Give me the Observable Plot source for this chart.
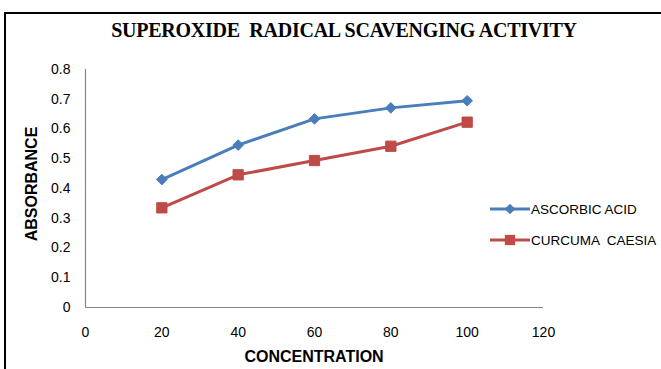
<!DOCTYPE html>
<html>
<head>
<meta charset="utf-8">
<script src="https://cdn.jsdelivr.net/npm/d3@7"></script>
<script src="https://cdn.jsdelivr.net/npm/@observablehq/plot@0.6"></script>
<style>
  html, body { margin: 0; padding: 0; background: #fff; }
  #wrap { position: relative; width: 661px; height: 369px; overflow: hidden; }
  #wrap svg.plot { position: absolute; left: 0; top: 0; }
  .frame { position: absolute; left: 4px; top: 12px; width: 660px; height: 360px; border-top: 2px solid #000; border-left: 2px solid #000; box-sizing: border-box; }
  .title { position: absolute; left: 344px; top: 30px; transform: translate(-50%, -50%); white-space: pre; font-family: "Liberation Serif", "Times New Roman", serif; font-weight: bold; font-size: 20px; letter-spacing: -0.25px; color: #000; }
  .xlabel { position: absolute; left: 314px; top: 357px; transform: translate(-50%, -50%); font-family: "Liberation Sans", Arial, sans-serif; font-weight: bold; font-size: 16px; color: #000; white-space: nowrap; }
  .ylabel { position: absolute; left: 32px; top: 184px; transform: translate(-50%, -50%) rotate(-90deg); font-family: "Liberation Sans", Arial, sans-serif; font-weight: bold; font-size: 16px; color: #000; white-space: nowrap; }
</style>
</head>
<body>
<div id="wrap">
  <div class="frame"></div>
  <div class="title">SUPEROXIDE  RADICAL SCAVENGING ACTIVITY</div>
  <div class="xlabel">CONCENTRATION</div>
  <div class="ylabel">ABSORBANCE</div>
</div>
<script>
const concentration = [20, 40, 60, 80, 100];
const ascorbicAcid = [0.43, 0.546, 0.634, 0.671, 0.695];
const curcumaCaesia = [0.335, 0.446, 0.494, 0.542, 0.623];
const seriesNames = ["ASCORBIC ACID", "CURCUMA  CAESIA"];
const seriesColors = ["#4a7ebb", "#be4b48"];
const xTicks = [0, 20, 40, 60, 80, 100, 120];
const yTicks = [0, 0.1, 0.2, 0.3, 0.4, 0.5, 0.6, 0.7, 0.8];

const dataA = concentration.map((c, i) => ({x: c, y: ascorbicAcid[i]}));
const dataC = concentration.map((c, i) => ({x: c, y: curcumaCaesia[i]}));

const font = '"Liberation Sans", Arial, sans-serif';
const fmt = d3.format("~g");

const chart = Plot.plot({
  width: 661,
  height: 369,
  marginLeft: 85,
  marginRight: 118,
  marginTop: 69,
  marginBottom: 62,
  style: {fontFamily: font, fontSize: "14px", color: "#000", background: "transparent", overflow: "visible"},
  x: {domain: [0, 120], ticks: xTicks, label: null},
  y: {domain: [0, 0.8], ticks: yTicks, label: null},
  marks: [
    Plot.ruleX([0], {stroke: "#868686", strokeWidth: 1.2}),
    Plot.ruleY([0], {stroke: "#868686", strokeWidth: 1.2}),
    Plot.axisX({ticks: xTicks, tickSize: 0, tickPadding: 20, fontSize: 14, label: null, fill: "#000", tickFormat: fmt}),
    Plot.axisY({ticks: yTicks, tickSize: 0, tickPadding: 15, fontSize: 14, label: null, fill: "#000", tickFormat: fmt}),
    Plot.line(dataA, {x: "x", y: "y", stroke: seriesColors[0], strokeWidth: 3}),
    Plot.line(dataC, {x: "x", y: "y", stroke: seriesColors[1], strokeWidth: 3}),
    Plot.dot(dataA, {x: "x", y: "y", symbol: "diamond2", r: 4.8, fill: seriesColors[0], stroke: seriesColors[0], strokeWidth: 1}),
    Plot.dot(dataC, {x: "x", y: "y", symbol: "square", r: 5.8, fill: seriesColors[1], stroke: seriesColors[1], strokeWidth: 1})
  ]
});
chart.classList.add("plot");
document.getElementById("wrap").prepend(chart);

// Legend
const lg = d3.create("svg").attr("width", 180).attr("height", 60);
[0, 1].forEach(i => {
  const y = 14 + i * 31;
  const g = lg.append("g");
  g.append("line").attr("x1", 10).attr("x2", 50).attr("y1", y).attr("y2", y)
    .attr("stroke", seriesColors[i]).attr("stroke-width", 3);
  const sym = i === 0 ? d3.symbol(d3.symbolDiamond2, 4.8 * 4.8 * Math.PI) : d3.symbol(d3.symbolSquare, 5.8 * 5.8 * Math.PI);
  g.append("path").attr("d", sym()).attr("transform", `translate(30,${y})`).attr("fill", seriesColors[i]);
  g.append("text").attr("x", 51).attr("y", y).attr("dy", "0.36em")
    .attr("font-family", font).attr("font-size", 13.5).attr("fill", "#000")
    .style("white-space", "pre")
    .text(seriesNames[i]);
});
lg.style("position", "absolute").style("left", "480px").style("top", "195px");
document.getElementById("wrap").append(lg.node());
</script>
</body>
</html>
